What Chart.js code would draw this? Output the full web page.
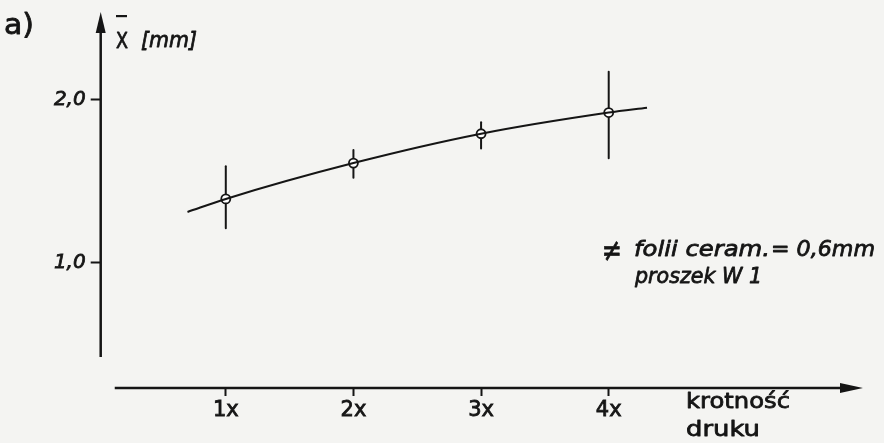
<!DOCTYPE html>
<html>
<head>
<meta charset="utf-8">
<script src="https://cdn.jsdelivr.net/npm/chart.js@4/dist/chart.umd.min.js"></script>
<style>
  html, body { margin: 0; padding: 0; background: #f4f4f2; }
  #wrap { width: 884px; height: 443px; position: relative; }
</style>
</head>
<body>
<div id="wrap"><canvas id="c"></canvas></div>
<script>
// Print multiplicity (krotność druku) on the x axis
const categories = [1, 2, 3, 4];
const categoryLabels = ['1x', '2x', '3x', '4x'];

// Mean value X̄ [mm] with its scatter range
const meanValues = [1.39, 1.61, 1.79, 1.92];
const errLow  = [1.21, 1.52, 1.70, 1.64];
const errHigh = [1.59, 1.69, 1.86, 2.17];

// Hand-fitted trend curve through the means, slightly extended on both ends
const fitX = [0.70, 1, 2, 3, 4, 4.30];
const fitY = [1.31, 1.39, 1.61, 1.79, 1.92, 1.95];

// Labelled ticks of the value axis
const yTickValues = [1.0, 2.0];
const yTickLabels = ['1,0', '2,0'];

const INK = '#151515';
const FONT = '"DejaVu Sans", sans-serif';
const PEN = 0.8; // extra stroke around glyphs, like pen lettering

// draw a text run fitted to a given width (hand lettering is wide)
function fitText(ctx, text, x, yBase, width, size, italic) {
  ctx.font = (italic ? 'italic ' : '') + size + 'px ' + FONT;
  const w = ctx.measureText(text).width;
  ctx.save();
  ctx.translate(x, yBase);
  ctx.scale(width / w, 1);
  ctx.lineWidth = PEN;
  ctx.lineJoin = 'round';
  ctx.fillText(text, 0, 0);
  ctx.strokeText(text, 0, 0);
  ctx.restore();
}

const errorBars = {
  id: 'errorBars',
  beforeDatasetsDraw(chart) {
    const { ctx, scales: { x, y } } = chart;
    ctx.save();
    ctx.strokeStyle = INK;
    ctx.lineWidth = 2;
    ctx.lineCap = 'round';
    categories.forEach((c, i) => {
      const px = x.getPixelForValue(c);
      ctx.beginPath();
      ctx.moveTo(px, y.getPixelForValue(errLow[i]));
      ctx.lineTo(px, y.getPixelForValue(errHigh[i]));
      ctx.stroke();
    });
    ctx.restore();
  }
};

const axesAndNotes = {
  id: 'axesAndNotes',
  afterDraw(chart) {
    const { ctx, chartArea: a, scales: { x, y } } = chart;
    ctx.save();
    ctx.strokeStyle = INK;
    ctx.fillStyle = INK;
    ctx.lineWidth = 2.5;
    ctx.lineCap = 'butt';

    // value axis with arrow
    const ax = a.left;
    const yBottom = y.getPixelForValue(0.42);
    const yTip = a.top - 6;
    ctx.beginPath();
    ctx.moveTo(ax, yBottom);
    ctx.lineTo(ax, yTip + 18);
    ctx.stroke();
    ctx.beginPath();
    ctx.moveTo(ax, yTip);
    ctx.lineTo(ax - 5, yTip + 21);
    ctx.lineTo(ax + 5, yTip + 21);
    ctx.closePath();
    ctx.fill();

    // category axis with arrow
    const by = a.bottom;
    const xStart = x.getPixelForValue(0.13);
    const xTip = a.right - 1;
    ctx.beginPath();
    ctx.moveTo(xStart, by);
    ctx.lineTo(xTip - 18, by);
    ctx.stroke();
    ctx.beginPath();
    ctx.moveTo(xTip, by);
    ctx.lineTo(xTip - 23, by - 5);
    ctx.lineTo(xTip - 23, by + 5);
    ctx.closePath();
    ctx.fill();

    ctx.textBaseline = 'alphabetic';
    ctx.textAlign = 'left';

    // panel letter
    fitText(ctx, 'a)', 4, 34, 30, 28, false);

    // value axis title: X with a bar above
    fitText(ctx, 'X', 116, 48, 12, 22, false);
    ctx.fillRect(116, 15, 11, 2.2);
    fitText(ctx, '[mm]', 141, 47, 56, 22, true);

    // category axis title
    fitText(ctx, 'krotność', 686, 408, 104, 22, false);
    fitText(ctx, 'druku', 686, 436, 74, 22, false);

    // specimen note
    fitText(ctx, '\u2260', 602, 261, 20, 32, false);
    fitText(ctx, 'folii ceram.', 634, 256, 136, 22, true);
    fitText(ctx, '= 0,6mm', 771, 256, 104, 22, true);
    fitText(ctx, 'proszek W 1', 635, 283, 127, 22, true);
    ctx.restore();
  }
};

new Chart(document.getElementById('c'), {
  type: 'line',
  data: {
    datasets: [
      {
        label: 'trend',
        data: fitX.map((v, i) => ({ x: v, y: fitY[i] })),
        borderColor: INK,
        borderWidth: 2,
        cubicInterpolationMode: 'monotone',
        pointRadius: 0,
        clip: false
      },
      {
        label: 'X̄',
        data: categories.map((c, i) => ({ x: c, y: meanValues[i] })),
        showLine: false,
        pointStyle: 'circle',
        pointRadius: 4.5,
        pointBackgroundColor: '#ffffff',
        pointBorderColor: INK,
        pointBorderWidth: 1.8,
        clip: false
      }
    ]
  },
  options: {
    responsive: true,
    maintainAspectRatio: false,
    animation: false,
    layout: { padding: { top: 18, right: 20, left: 0, bottom: 0 } },
    plugins: { legend: { display: false }, tooltip: { enabled: false } },
    scales: {
      x: {
        type: 'linear',
        min: 0.02,
        max: 6,
        afterBuildTicks(s) { s.ticks = categories.map(v => ({ value: v })); },
        afterFit(s) { s.height = 55; },
        ticks: {
          callback: (v) => categoryLabels[categories.indexOf(v)] ?? '',
          color: INK,
          textStrokeColor: INK,
          textStrokeWidth: PEN,
          font: { family: FONT, size: 21 },
          padding: 2,
          maxRotation: 0,
          autoSkip: false
        },
        grid: { drawOnChartArea: false, tickLength: 8, tickColor: INK, tickWidth: 2 },
        border: { display: false }
      },
      y: {
        type: 'linear',
        min: 0.23,
        max: 2.5,
        afterBuildTicks(s) { s.ticks = yTickValues.map(v => ({ value: v })); },
        afterFit(s) { s.width = 100.7; },
        ticks: {
          callback: (v) => yTickLabels[yTickValues.indexOf(v)] ?? '',
          color: INK,
          textStrokeColor: INK,
          textStrokeWidth: PEN,
          font: { family: FONT, size: 20, style: 'italic' },
          padding: 5
        },
        grid: { drawOnChartArea: false, tickLength: 10, tickColor: INK, tickWidth: 2 },
        border: { display: false }
      }
    }
  },
  plugins: [errorBars, axesAndNotes]
});
</script>
</body>
</html>
